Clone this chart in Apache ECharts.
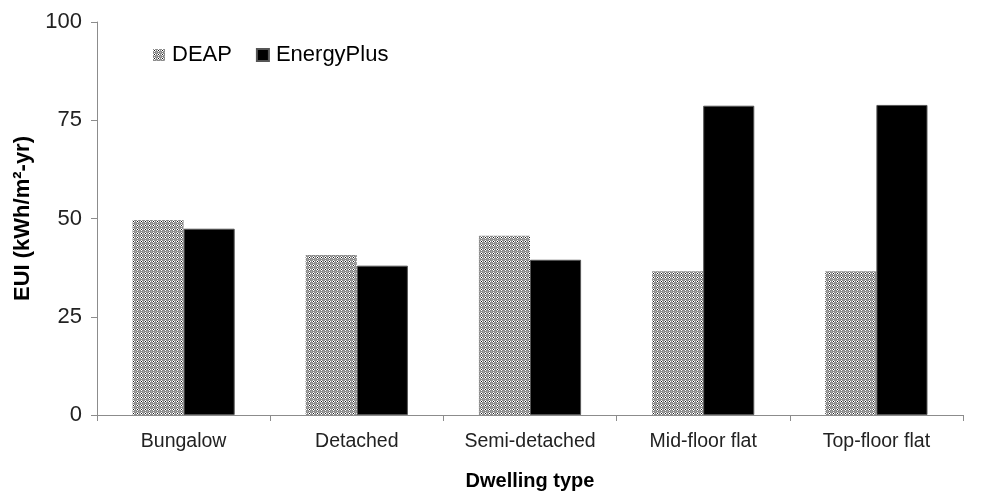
<!DOCTYPE html>
<html>
<head>
<meta charset="utf-8">
<script src="https://cdn.jsdelivr.net/npm/echarts@6/dist/echarts.min.js"></script>
<style>
  html, body { margin: 0; padding: 0; background: #fff; }
  #charts { width: 982px; height: 494px; }
</style>
</head>
<body>
<div id="charts"></div>
<script>
var categories = ['Bungalow', 'Detached', 'Semi-detached', 'Mid-floor flat', 'Top-floor flat'];
var deap = [49.6, 40.7, 45.6, 36.6, 36.6];
var energyPlus = [47.4, 38.0, 39.5, 78.7, 78.9];
var yTicks = [0, 25, 50, 75, 100];

// small dotted tile, like the excel fill
var tile = document.createElement('canvas');
tile.width = 4;
tile.height = 4;
var ctx = tile.getContext('2d');
ctx.fillStyle = '#8c8c8c';
ctx.fillRect(0, 0, 4, 4);
ctx.fillStyle = '#ffffff';
ctx.fillRect(1, 0, 1, 1);
ctx.fillRect(0, 1, 1, 1);
ctx.fillRect(2, 1, 1, 1);
ctx.fillRect(1, 2, 1, 1);
ctx.fillStyle = '#111111';
ctx.fillRect(1, 1, 1, 1);
ctx.fillStyle = '#b0b0b0';
ctx.fillRect(3, 3, 1, 1);

var font = 'Liberation Sans';
var myChart = echarts.init(document.getElementById('charts'));
var option = {
    animation: false,
    legend: {
        left: 148,
        top: 39,
        itemWidth: 12,
        itemHeight: 12,
        itemGap: 24,
        icon: 'rect',
        textStyle: { fontFamily: font, fontSize: 22, color: '#000', padding: [0, 0, 0, 2] },
        data: ['DEAP', 'EnergyPlus']
    },
    grid: {
        left: 97,
        right: 19,
        top: 22,
        bottom: 79,
        outerBoundsMode: 'none'
    },
    xAxis: {
        type: 'category',
        data: categories,
        name: 'Dwelling type',
        nameLocation: 'middle',
        nameGap: 56,
        nameTextStyle: { fontFamily: font, fontSize: 20, fontWeight: 'bold', color: '#000' },
        axisLine: { lineStyle: { color: '#8c8c8c', width: 1 } },
        axisTick: { show: true, length: 6, lineStyle: { color: '#8c8c8c' } },
        axisLabel: { fontFamily: font, fontSize: 19.5, color: '#222', margin: 17 }
    },
    yAxis: {
        type: 'value',
        min: 0,
        max: 100,
        interval: 25,
        name: 'EUI (kWh/m²-yr)',
        nameLocation: 'middle',
        nameGap: 58,
        nameTextStyle: { fontFamily: font, fontSize: 22, fontWeight: 'bold', color: '#000' },
        axisLine: { show: true, lineStyle: { color: '#8c8c8c', width: 1 } },
        axisTick: { show: true, length: 6, lineStyle: { color: '#8c8c8c' } },
        splitLine: { show: false },
        axisLabel: {
            fontFamily: font, fontSize: 22, color: '#222', margin: 15,
            formatter: function (v) { return yTicks.indexOf(v) >= 0 ? String(v) : ''; }
        }
    },
    series: [
        {
            name: 'DEAP',
            type: 'bar',
            barGap: '0%',
            barCategoryGap: '41%',
            itemStyle: { color: { image: tile, repeat: 'repeat' } },
            data: deap
        },
        {
            name: 'EnergyPlus',
            type: 'bar',
            itemStyle: { color: '#000', borderColor: '#555', borderWidth: 1 },
            data: energyPlus
        }
    ]
};
myChart.setOption(option);
</script>
</body>
</html>
